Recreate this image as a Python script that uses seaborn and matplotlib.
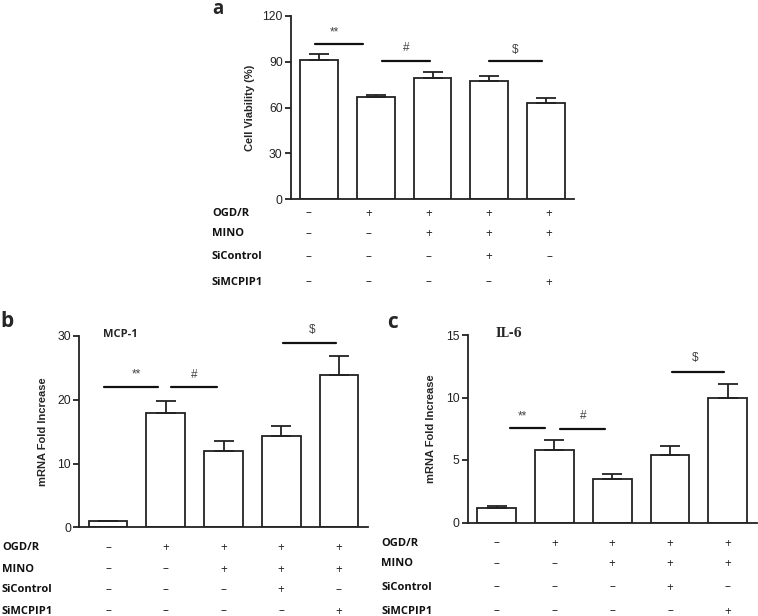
import matplotlib
matplotlib.use("Agg")
import matplotlib.pyplot as plt
import matplotlib.transforms as mtransforms
import seaborn as sns
import pandas as pd

sns.set_style("ticks")
plt.rcParams['font.family'] = ['Liberation Sans', 'DejaVu Sans']

groups = ["G1", "G2", "G3", "G4", "G5"]
row_names = ["OGD/R", "MINO", "SiControl", "SiMCPIP1"]
signs = [["–", "+", "+", "+", "+"],
         ["–", "–", "+", "+", "+"],
         ["–", "–", "–", "+", "–"],
         ["–", "–", "–", "–", "+"]]

# panel a - cell viability
via_mean = [91.5, 66.8, 79.3, 77.2, 63.0]
via_err = [3.3, 1.8, 4.3, 3.5, 3.5]
# panel b - MCP-1
mcp_mean = [1.0, 18.0, 12.0, 14.3, 23.9]
mcp_err = [0.0, 1.8, 1.5, 1.6, 3.0]
# panel c - IL-6
il6_mean = [1.2, 5.8, 3.45, 5.4, 10.0]
il6_err = [0.12, 0.8, 0.45, 0.7, 1.05]

W, H = 758, 616
fig = plt.figure(figsize=(W / 100, H / 100), dpi=100)
OPEN = ["Open Sans", "DejaVu Sans"]


def px_axes(left, right, top, bottom):
    return fig.add_axes([left / W, 1 - bottom / H, (right - left) / W, (bottom - top) / H])


def draw_bars(ax, mean, err, ymax, yticks):
    df = pd.DataFrame({"group": groups, "value": mean})
    sns.barplot(data=df, x="group", y="value", color="white", edgecolor="#222222",
                linewidth=1.3, width=0.67, ax=ax)
    ax.errorbar(range(len(groups)), mean, yerr=[[0] * len(err), err], fmt="none",
                ecolor="#222222", elinewidth=1.3, capsize=7, capthick=1.3)
    ax.set_xlim(-0.5, 4.5)
    ax.set_ylim(0, ymax)
    ax.set_yticks(yticks)
    ax.set_xticks([])
    ax.set_xlabel("")
    sns.despine(ax=ax)
    for side in ["left", "bottom"]:
        ax.spines[side].set_linewidth(1.3)
        ax.spines[side].set_color("#222222")
    ax.tick_params(axis="y", length=4, width=1.3, labelsize=8.8, color="#222222",
                   labelcolor="#222222", pad=2)


def draw_sig(ax, lines):
    for x0, x1, yl, label, xt, yt in lines:
        ax.plot([x0, x1], [yl, yl], color="#111111", lw=1.6, clip_on=False)
        ax.text(xt, yt, label, ha="center", va="center", fontsize=8.5, color="#444444")


def draw_table(ax, label_x, rows_y, step=1.0, shift=0.0):
    tr = mtransforms.blended_transform_factory(ax.transData, fig.transFigure)
    for r, name in enumerate(row_names):
        y = 1 - rows_y[r] / H
        fig.text(label_x / W, y, name, ha="left", va="center", fontsize=8,
                 fontweight="bold", family=OPEN, color="#111111")
        for i, s in enumerate(signs[r]):
            ax.text(i * step + shift, y, s, transform=tr, ha="center", va="center",
                    fontsize=8.5, family=OPEN, color="#222222")


# Panel a
ax_a = px_axes(291, 574, 16, 199.3)
draw_bars(ax_a, via_mean, via_err, 120, [0, 30, 60, 90, 120])
ax_a.set_ylabel("Cell Viability (%)", fontsize=8, fontweight="bold", labelpad=5)
draw_sig(ax_a, [(-0.07, 0.78, 101.6, "**", 0.27, 109.5),
                (1.10, 1.95, 90.5, "#", 1.54, 99.0),
                (2.99, 3.93, 90.5, "$", 3.46, 97.7)])
draw_table(ax_a, 212, [213, 234, 257, 282], step=1.065, shift=-0.2)
fig.text(212 / W, 1 - 14.5 / H, "a", fontsize=13.5, fontweight="bold", va="baseline", family=OPEN)

# Panel b
ax_b = px_axes(79.3, 367.7, 336, 527.3)
draw_bars(ax_b, mcp_mean, mcp_err, 30, [0, 10, 20, 30])
ax_b.set_ylabel("mRNA Fold Increase", fontsize=8, fontweight="bold", labelpad=7)
draw_sig(ax_b, [(-0.07, 0.86, 22.05, "**", 0.49, 23.9),
                (1.09, 1.89, 22.05, "#", 1.50, 23.9),
                (3.04, 3.95, 28.9, "$", 3.54, 30.9)])
ax_b.text(0.22, 30.2, "MCP-1", ha="center", va="center", fontsize=8, fontweight="bold",
          family=OPEN, clip_on=False)
draw_table(ax_b, 2, [548, 569, 590, 611])
fig.text(0 / W, 1 - 327.5 / H, "b", fontsize=15, fontweight="bold", va="baseline", family=OPEN)

# Panel c
ax_c = px_axes(467.7, 756.7, 335, 522.5)
draw_bars(ax_c, il6_mean, il6_err, 15, [0, 5, 10, 15])
ax_c.set_ylabel("mRNA Fold Increase", fontsize=8, fontweight="bold", labelpad=7)
draw_sig(ax_c, [(0.23, 0.83, 7.6, "**", 0.45, 8.5),
                (1.10, 1.87, 7.47, "#", 1.50, 8.5),
                (3.04, 3.93, 12.03, "$", 3.43, 13.2)])
ax_c.text(0.22, 15.1, "IL-6", ha="center", va="center", fontsize=8.5, fontweight="bold",
          family=["DejaVu Serif"], clip_on=False)
draw_table(ax_c, 381, [543, 564, 587, 611])
fig.text(387 / W, 1 - 328 / H, "c", fontsize=15, fontweight="bold", va="baseline", family=OPEN)

plt.savefig("out.png", dpi=100)
plt.close()
